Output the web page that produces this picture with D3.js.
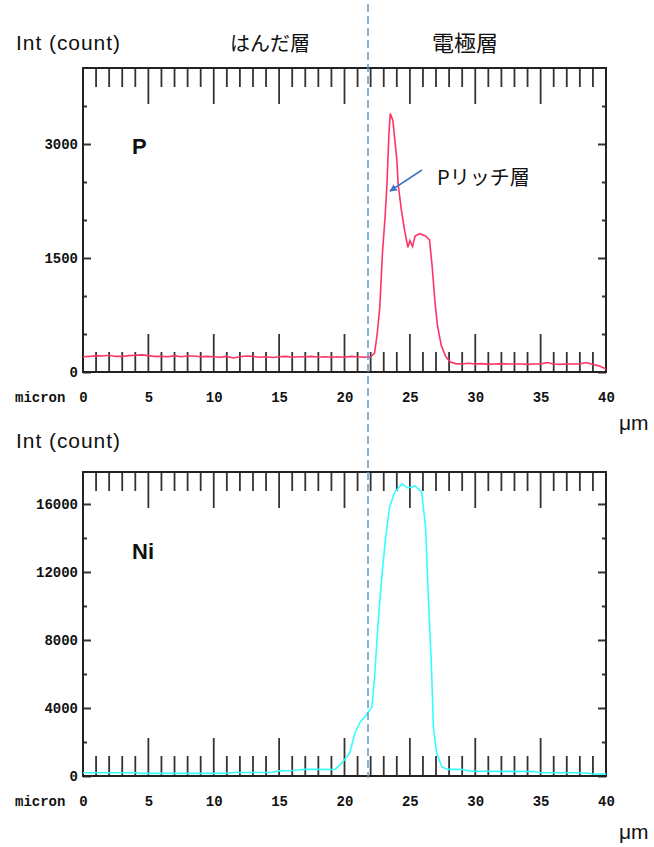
<!DOCTYPE html>
<html>
<head>
<meta charset="utf-8">
<script src="https://cdn.jsdelivr.net/npm/d3@7"></script>
<style>
  body { margin: 0; background: #fff; }
  .lbl { font-family: "Liberation Sans", Arial, sans-serif; fill: #111; }
  .jp { font-family: "Noto Sans CJK JP", sans-serif; fill: #111; }
  .mono { font-family: "Liberation Mono", "Courier New", monospace; font-weight: bold; font-size: 14px; fill: #111; }
</style>
</head>
<body>
<div id="chart"></div>
<script>
// datos P (micron, count)
const pX = [0,0.5,1,1.5,2,2.5,3,3.5,4,4.5,5,5.5,6,6.5,7,7.5,8,8.5,9,9.5,10,10.5,11,11.5,12,12.5,13,13.5,14,14.5,15,15.5,16,16.5,17,17.5,18,18.5,19,19.5,20,20.5,21,21.5,22,22.3,22.5,22.7,22.9,23.1,23.25,23.4,23.5,23.7,23.85,24,24.1,24.35,24.6,24.85,25,25.2,25.4,25.75,26.2,26.5,26.7,26.9,27.1,27.4,27.75,28.1,28.5,29,29.5,30,30.5,31,31.5,32,32.5,33,33.5,34,34.5,35,35.5,36,36.5,37,37.5,38,38.5,39,39.5,40]
const pY = [200,205,215,210,220,205,205,215,220,225,215,205,205,200,215,200,210,210,200,205,200,195,205,185,200,210,205,195,200,190,200,205,195,200,200,205,195,200,195,200,195,205,200,195,200,250,500,850,1560,2030,2480,3140,3400,3310,3050,2800,2480,2130,1860,1640,1730,1650,1790,1820,1790,1740,1400,960,620,350,200,130,110,105,115,105,110,100,105,110,105,105,105,100,105,105,125,105,100,105,105,105,125,100,80,40]

// datos Ni
const niX = [0,1,2,3,4,4.5,5,6,7,8,9,10,11,11.5,12,13,14,14.5,15,15.5,16,16.5,17,17.5,18,19,19.3,19.65,20,20.4,20.8,21.2,21.55,22.1,22.3,22.55,22.85,23.15,23.45,23.85,24.4,24.6,24.85,25.4,25.9,26.2,26.4,26.65,26.8,27.05,27.45,27.9,28.5,29,29.5,30,31,32,33,34,34.5,35,36,37,38,38.5,39,40]
const niY = [190,190,190,190,190,155,155,155,155,155,155,155,160,210,210,210,210,220,300,310,320,350,390,390,390,380,400,650,950,1350,2530,3180,3470,4060,5820,8760,11700,14060,15820,16700,17180,17060,16940,17060,16700,14650,10760,6410,2880,1350,530,390,390,380,300,280,275,270,270,265,260,195,190,190,190,180,120,110]

// ticks
const xLabels = [0,5,10,15,20,25,30,35,40]
const pTicksMajor = [0,1500,3000]
const pTicksMinor = [500,1000,2000,2500,3500]
const niTicksMajor = [0,4000,8000,12000,16000]
const niTicksMinor = [2000,6000,10000,14000]
const rulerTicks = d3.range(1,40)

const width = 654, height = 847
const svg = d3.select("#chart").append("svg")
  .attr("width", width)
  .attr("height", height)

const x = d3.scaleLinear().domain([0,40]).range([83,606])

function panel(top, bottom, yMax, xs, ys, majors, minors, color) {
  const y = d3.scaleLinear().domain([0,yMax]).range([bottom, top])
  const g = svg.append("g")

  // regla arriba
  g.selectAll(".rt").data(rulerTicks).enter().append("line")
    .attr("x1", d => x(d)).attr("x2", d => x(d))
    .attr("y1", top).attr("y2", d => top + (d % 5 === 0 ? 36 : 19))
    .attr("stroke", "#333").attr("stroke-width", 1.8)
  // regla abajo
  g.selectAll(".rb").data(rulerTicks).enter().append("line")
    .attr("x1", d => x(d)).attr("x2", d => x(d))
    .attr("y1", bottom).attr("y2", d => bottom - (d % 5 === 0 ? 38 : 20))
    .attr("stroke", "#333").attr("stroke-width", 1.8)

  // eje y izq
  const yl = g.append("g").attr("transform", `translate(${x(0)},0)`)
    .call(d3.axisLeft(y).tickValues(majors).tickSize(-8).tickPadding(5).tickFormat(d3.format("d")))
  yl.select(".domain").remove()
  yl.selectAll("text").attr("class", "mono").attr("font-size", null).attr("font-family", null)
  const yl2 = g.append("g").attr("transform", `translate(${x(0)},0)`)
    .call(d3.axisLeft(y).tickValues(minors).tickSize(-4).tickFormat(""))
  yl2.select(".domain").remove()
  // eje y der
  const yr = g.append("g").attr("transform", `translate(${x(40)},0)`)
    .call(d3.axisRight(y).tickValues(majors).tickSize(-8).tickFormat(""))
  yr.select(".domain").remove()
  const yr2 = g.append("g").attr("transform", `translate(${x(40)},0)`)
    .call(d3.axisRight(y).tickValues(minors).tickSize(-4).tickFormat(""))
  yr2.select(".domain").remove()
  g.selectAll(".tick line").attr("stroke", "#333").attr("stroke-width", 2)

  // marco
  g.append("path")
    .attr("d", `M${x(0)},${top} V${bottom} H${x(40)} V${top} Z`)
    .attr("fill", "none").attr("stroke", "#222").attr("stroke-width", 2)

  // etiquetas x
  const xa = g.append("g").attr("transform", `translate(0,${bottom})`)
    .call(d3.axisBottom(x).tickValues(xLabels).tickSize(0).tickPadding(20))
  xa.select(".domain").remove()
  xa.selectAll("text").attr("class", "mono").attr("font-size", null).attr("font-family", null)
  g.append("text").attr("class", "mono").attr("x", 15).attr("y", bottom + 30).text("micron")

  // linea
  const line = d3.line().x((d,i) => x(xs[i])).y(d => y(d))
  g.append("path").datum(ys)
    .attr("d", line)
    .attr("fill", "none").attr("stroke", color).attr("stroke-width", 1.6)
  return y
}

panel(68, 372, 4000, pX, pY, pTicksMajor, pTicksMinor, "#ff3366")
panel(472, 776, 17880, niX, niY, niTicksMajor, niTicksMinor, "#33ffff")

// textos
svg.append("text").attr("class", "lbl").attr("x", 16).attr("y", 50).attr("font-size", 21).attr("textLength", 104).text("Int (count)")
svg.append("text").attr("class", "lbl").attr("x", 16).attr("y", 448).attr("font-size", 21).attr("textLength", 104).text("Int (count)")
svg.append("text").attr("class", "jp").attr("x", 230).attr("y", 51).attr("font-size", 20).text("はんだ層")
svg.append("text").attr("class", "jp").attr("x", 432).attr("y", 51).attr("font-size", 22).text("電極層")
svg.append("text").attr("class", "lbl").attr("x", 619).attr("y", 430).attr("font-size", 21).text("μm")
svg.append("text").attr("class", "lbl").attr("x", 619).attr("y", 839).attr("font-size", 21).text("μm")
svg.append("text").attr("class", "lbl").attr("x", 132).attr("y", 154).attr("font-size", 22).attr("font-weight", "bold").text("P")
svg.append("text").attr("class", "lbl").attr("x", 132).attr("y", 559).attr("font-size", 22).attr("font-weight", "bold").text("Ni")

// flecha Pリッチ層
svg.append("defs").append("marker")
  .attr("id", "arr").attr("viewBox", "0 0 10 10").attr("refX", 9).attr("refY", 5)
  .attr("markerWidth", 5).attr("markerHeight", 5).attr("orient", "auto")
  .append("path").attr("d", "M0,0 L10,5 L0,10 Z").attr("fill", "#4472c4")
svg.append("line")
  .attr("x1", 422).attr("y1", 170).attr("x2", 390).attr("y2", 191)
  .attr("stroke", "#4472c4").attr("stroke-width", 1.5).attr("marker-end", "url(#arr)")
svg.append("text").attr("class", "jp").attr("x", 437).attr("y", 185).attr("font-size", 20).text("Pリッチ層")

// linea discontinua
svg.append("line")
  .attr("x1", 368).attr("x2", 368).attr("y1", 4).attr("y2", 778)
  .attr("stroke", "#5b9bd5").attr("stroke-width", 1.5).attr("stroke-dasharray", "8,4")
</script>
</body>
</html>
